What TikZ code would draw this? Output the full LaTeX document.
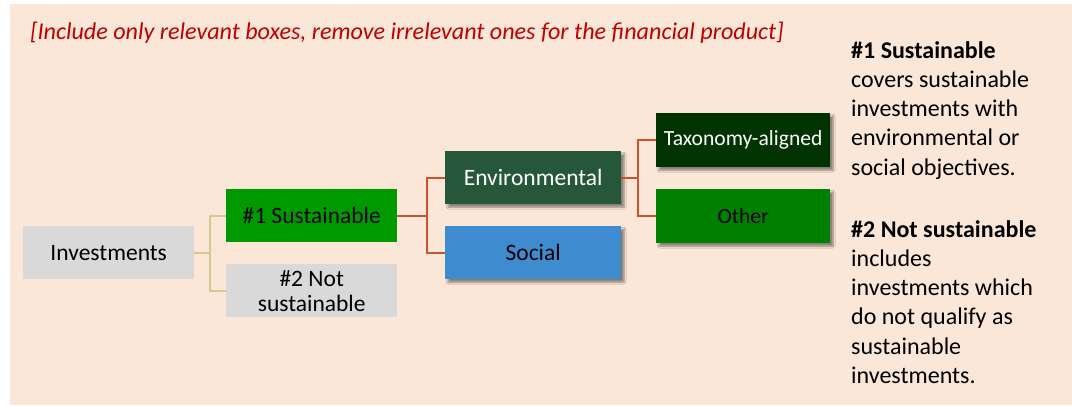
\documentclass[tikz,border=0pt]{standalone}
\usepackage{fontspec}
\setmainfont{Carlito}
\usetikzlibrary{shadows.blur}

\definecolor{peach}{HTML}{FAE7D7}
\definecolor{boxgray}{HTML}{D9D9D9}
\definecolor{susgreen}{HTML}{009900}
\definecolor{envgreen}{HTML}{26573A}
\definecolor{taxgreen}{HTML}{003300}
\definecolor{othgreen}{HTML}{008000}
\definecolor{socblue}{HTML}{3F8BD0}
\definecolor{tanlink}{HTML}{D6C98C}
\definecolor{redlink}{HTML}{C8532F}
\definecolor{notered}{HTML}{C00000}

\tikzset{
  box/.style={anchor=north west, inner sep=0pt, minimum width=171pt, minimum height=53pt,
    align=center, font=\fontsize{23.5}{25}\selectfont},
  shadowbox/.style={box, blur shadow={shadow xshift=3pt, shadow yshift=-3pt,
    shadow blur steps=6, shadow opacity=45}},
  tanwire/.style={draw=tanlink, line width=2pt},
  redwire/.style={draw=redlink, line width=2pt},
  sidetext/.style={anchor=north west, inner sep=0pt, align=left,
    font=\fontsize{24}{29.3}\selectfont}
}

\begin{document}
\begin{tikzpicture}[x=1pt,y=-1pt]
    \useasboundingbox (0,0) rectangle (1072,405);
    \fill[peach] (10,4) rectangle (1072,405);

    \node[anchor=base west, inner sep=0pt, text=notered, font=\fontsize{24.1}{26}\selectfont\itshape]
        (note) at (30,39) {[Include only relevant boxes, remove irrelevant ones for the financial product]};

    % first level
    \node[box, fill=boxgray] (inv) at (23,226) {Investments};
    \node[box, fill=susgreen] (sus) at (226,189) {\#1 Sustainable};
    \node[box, fill=boxgray] (nsus) at (226,264) {\#2 Not\\sustainable};

    % second level
    \node[shadowbox, fill=envgreen, text=white, minimum width=176pt] (env) at (445,151) {Environmental};
    \node[shadowbox, fill=socblue, minimum width=176pt] (soc) at (445,226) {Social};

    % third level
    \node[shadowbox, fill=taxgreen, text=white, minimum width=174pt, minimum height=54pt,
        font=\fontsize{21.6}{23}\selectfont] (tax) at (656,113) {Taxonomy-aligned};
    \node[shadowbox, fill=othgreen, minimum width=174pt, minimum height=54pt,
        font=\fontsize{21.6}{23}\selectfont] (oth) at (656,189) {Other};

    % links
    \draw[tanwire] (inv.east) -- ++(16,0) |- (sus.west);
    \draw[tanwire] (inv.east) -- ++(16,0) |- (nsus.west);
    \draw[redwire] (sus.east) -- ++(30,0) |- (env.west);
    \draw[redwire] (sus.east) -- ++(30,0) |- (soc.west);
    \draw[redwire] (env.east) -- ++(17,0) |- (tax.west);
    \draw[redwire] (env.east) -- ++(17,0) |- (oth.west);

    % explanation
    \node[sidetext] (expla) at (851,41) {\textbf{\#1 Sustainable}\\covers sustainable\\investments with\\environmental or\\social objectives.};
    \node[sidetext] (explb) at (851,220) {\textbf{\#2 Not sustainable}\\includes\\investments which\\do not qualify as\\sustainable\\investments.};
\end{tikzpicture}
\end{document}
